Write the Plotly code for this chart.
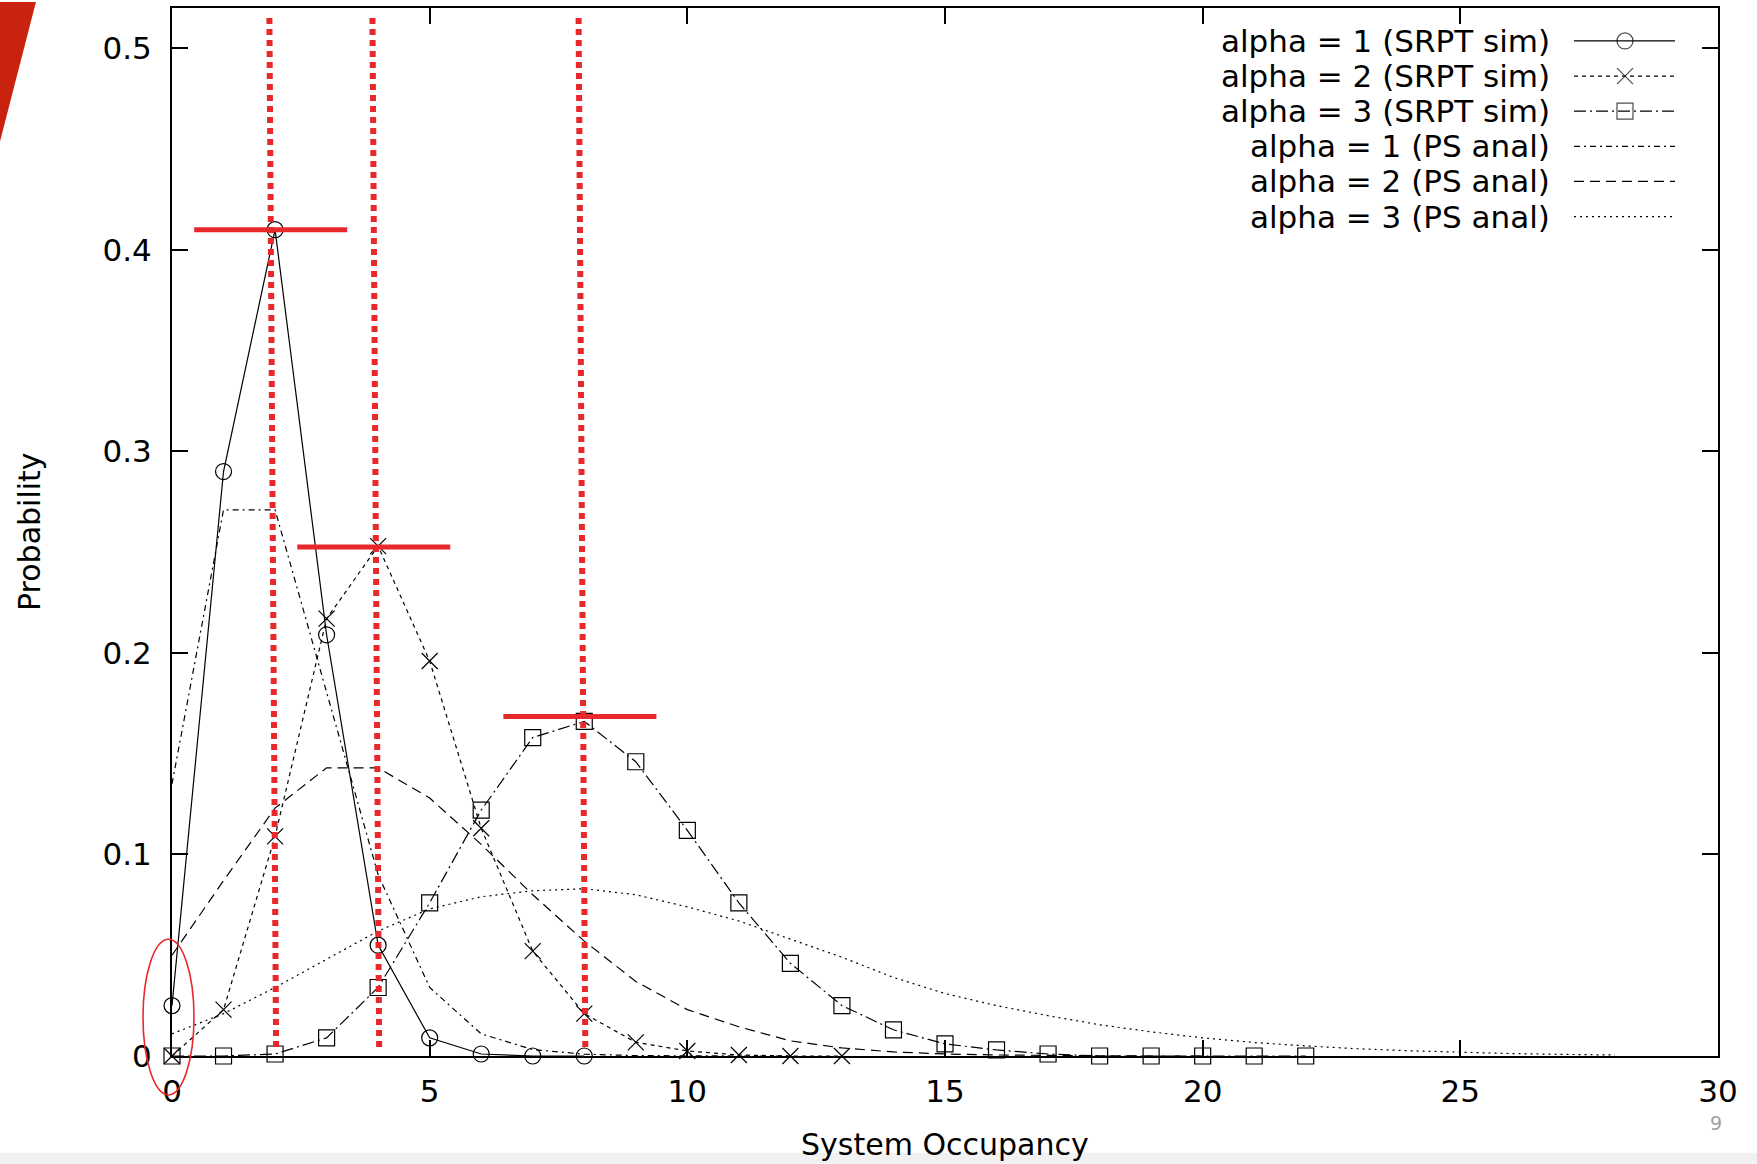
import plotly.graph_objects as go

# ---------------- data ----------------
n_srpt1 = list(range(0, 9))
p_srpt1 = [0.025, 0.29, 0.41, 0.209, 0.055, 0.009, 0.001, 0.0, 0.0]

n_srpt2 = list(range(0, 14))
p_srpt2 = [0.0, 0.023, 0.109, 0.217, 0.253, 0.196, 0.113, 0.052, 0.021, 0.0068, 0.0025, 0.0005, 0.0, 0.0]

n_srpt3 = list(range(0, 23))
p_srpt3 = [0.0, 0.0, 0.001, 0.009, 0.034, 0.076, 0.122, 0.158, 0.166, 0.146, 0.112, 0.076,
           0.046, 0.025, 0.013, 0.006, 0.003, 0.001, 0.0, 0.0, 0.0, 0.0, 0.0]

n_ps1 = list(range(0, 13))
p_ps1 = [0.135, 0.271, 0.271, 0.180, 0.090, 0.034, 0.011, 0.0032, 0.0009, 0.0002, 0.0, 0.0, 0.0]

n_ps2 = list(range(0, 21))
p_ps2 = [0.050, 0.087, 0.123, 0.143, 0.143, 0.128, 0.105, 0.080, 0.057, 0.037, 0.023, 0.0145,
         0.0075, 0.004, 0.002, 0.001, 0.0005, 0.0002, 0.0001, 0.0, 0.0]

n_ps3 = list(range(0, 29))
p_ps3 = [0.011, 0.021, 0.034, 0.048, 0.062, 0.073, 0.079, 0.082, 0.083, 0.080, 0.074, 0.067,
         0.058, 0.049, 0.039, 0.031, 0.025, 0.020, 0.0155, 0.012, 0.009, 0.0067, 0.005, 0.0036,
         0.0026, 0.0018, 0.0012, 0.0008, 0.0005]

series_names = ["alpha = 1 (SRPT sim)", "alpha = 2 (SRPT sim)", "alpha = 3 (SRPT sim)",
                "alpha = 1 (PS anal)", "alpha = 2 (PS anal)", "alpha = 3 (PS anal)"]

x_ticks = [0, 5, 10, 15, 20, 25, 30]
y_ticks = [0, 0.1, 0.2, 0.3, 0.4, 0.5]
y_ticktext = ["0", "0.1", "0.2", "0.3", "0.4", "0.5"]

# red annotation overlay (slide markup)
peak_x = [2, 4, 8]
peak_y = [0.41, 0.2525, 0.1685]

# ---------------- styles ----------------
FONT = "DejaVu Sans, Liberation Sans, Arial, sans-serif"
FS = 31
RED = "#e8282b"
W, H = 1757, 1164
L, R, T, B = 172, 1718, 6, 1056   # plot area in pixels

styles = [
    dict(dash="solid", symbol="circle-open"),
    dict(dash="4px,4px", symbol="x-thin-open"),
    dict(dash="12px,4px,2px,4px", symbol="square-open"),
    dict(dash="6px,4px,2px,4px", symbol=None),
    dict(dash="10px,6px", symbol=None),
    dict(dash="2px,4px", symbol=None),
]
datasets = [(n_srpt1, p_srpt1), (n_srpt2, p_srpt2), (n_srpt3, p_srpt3),
            (n_ps1, p_ps1), (n_ps2, p_ps2), (n_ps3, p_ps3)]


def px_x(px):
    return (px - L) / (R - L)


def px_y(py):
    return (B - py) / (B - T)


fig = go.Figure()

for (xs, ys), st in zip(datasets, styles):
    if st["symbol"]:
        fig.add_trace(go.Scatter(
            x=xs, y=ys, mode="lines+markers", showlegend=False, cliponaxis=False,
            line=dict(color="black", width=1.2, dash=st["dash"]),
            marker=dict(symbol=st["symbol"], size=16, color="black",
                        line=dict(color="black", width=1.2))))
    else:
        fig.add_trace(go.Scatter(
            x=xs, y=ys, mode="lines", showlegend=False,
            line=dict(color="black", width=1.2, dash=st["dash"])))

# ---------------- manual gnuplot-style legend ----------------
row0, row_step = 39, 35.2
text_right = 1552
samp_x0, samp_xm, samp_x1 = 1574, 1625, 1675
annotations = []
for i, (name, st) in enumerate(zip(series_names, styles)):
    ry = row0 + i * row_step
    annotations.append(dict(xref="paper", yref="paper", x=px_x(text_right), y=px_y(ry),
                            xanchor="right", yanchor="middle", text=name, showarrow=False,
                            font=dict(family=FONT, size=FS, color="black")))
    fig.add_trace(go.Scatter(
        x=[samp_x0, samp_xm, samp_x1], y=[ry, ry, ry], xaxis="x2", yaxis="y2",
        mode="lines+markers" if st["symbol"] else "lines", showlegend=False,
        line=dict(color="black", width=1.2, dash=st["dash"]),
        marker=dict(symbol=st["symbol"] or "circle", size=[0, 16 if st["symbol"] else 0, 0],
                    color="black", line=dict(color="black", width=1.2))))

# axis titles
annotations.append(dict(xref="paper", yref="paper", x=px_x(29), y=0.5, text="Probability",
                        textangle=-90, showarrow=False, xanchor="center", yanchor="middle",
                        font=dict(family=FONT, size=30, color="black")))
annotations.append(dict(xref="paper", yref="paper", x=0.5, y=px_y(1145), text="System Occupancy",
                        showarrow=False, xanchor="center", yanchor="middle",
                        font=dict(family=FONT, size=30, color="black")))
# page number
annotations.append(dict(xref="paper", yref="paper", x=px_x(1716), y=px_y(1123), text="9",
                        showarrow=False, xanchor="center", yanchor="middle",
                        font=dict(family=FONT, size=19, color="#a0a0a0")))

# ---------------- red slide markup ----------------
shapes = []
for px_, py_ in zip(peak_x, peak_y):
    shapes.append(dict(type="line", xref="x", yref="y", x0=px_ - 0.11, x1=px_ + 0.02,
                       y0=0.515, y1=0.004, line=dict(color=RED, width=6, dash="6px,5px")))
    shapes.append(dict(type="line", xref="x", yref="y", x0=px_ - 1.57, x1=px_ + 1.4,
                       y0=py_, y1=py_, line=dict(color=RED, width=5)))
shapes.append(dict(type="circle", xref="paper", yref="paper", x0=px_x(143), x1=px_x(194),
                   y0=px_y(1095), y1=px_y(939), line=dict(color=RED, width=1.6)))
shapes.append(dict(type="path", xref="paper", yref="paper",
                   path="M {:.4f},{:.4f} L {:.4f},{:.4f} L {:.4f},{:.4f} Z".format(
                       px_x(0), px_y(0), px_x(36), px_y(0), px_x(0), px_y(140)),
                   fillcolor="#c9220f", line=dict(width=0)))
shapes.append(dict(type="rect", xref="paper", yref="paper", x0=px_x(0), x1=px_x(W),
                   y0=px_y(H), y1=px_y(1153), fillcolor="#f1f1f1", line=dict(width=0),
                   layer="below"))

axis_common = dict(showgrid=False, zeroline=False, showline=True, linecolor="black",
                   linewidth=2, mirror="ticks", ticks="inside", ticklen=16, tickwidth=1.5,
                   tickcolor="black", tickfont=dict(family=FONT, size=FS, color="black"))

fig.update_layout(
    width=W, height=H,
    margin=dict(l=L, r=W - R, t=T, b=H - B, pad=0),
    paper_bgcolor="white", plot_bgcolor="white",
    xaxis=dict(range=[0, 30], tickvals=x_ticks, ticklabelstandoff=7, **axis_common),
    yaxis=dict(range=[0, 0.52], tickvals=y_ticks, ticktext=y_ticktext,
               ticklabelstandoff=12, **axis_common),
    xaxis2=dict(range=[L, R], overlaying="x", visible=False),
    yaxis2=dict(range=[B, T], overlaying="y", visible=False),
    annotations=annotations, shapes=shapes,
)

fig.write_html("out.html", config={"displayModeBar": False},
               post_script="document.body.style.margin='0px';document.body.style.overflow='hidden';")
